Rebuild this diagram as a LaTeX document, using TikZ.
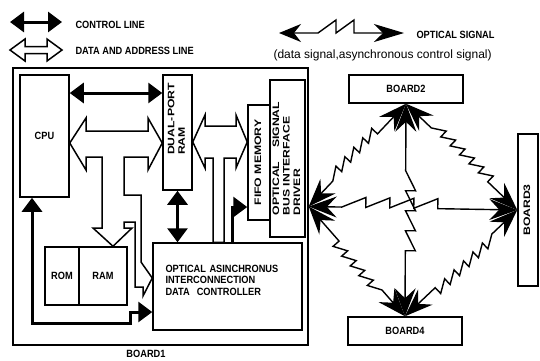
\documentclass[tikz,border=0pt]{standalone}
\usepackage{fontspec}
\setmainfont{Liberation Sans}
\newfontfamily\narrowsf{Liberation Sans}[FakeStretch=0.88]
\newfontfamily\widesf{Liberation Sans}[FakeStretch=1.3]
\usetikzlibrary{arrows.meta,decorations.pathmorphing,calc}
\newcommand{\vlabel}[1]{\rotatebox{90}{\begin{tabular}{@{}l@{}}#1\end{tabular}}}

\begin{document}
\begin{tikzpicture}[x=1pt,y=-1pt,
  box/.style={draw,line width=1.5pt,inner sep=0pt},
  lbl/.style={font=\narrowsf\bfseries\fontsize{10.5}{11.5}\selectfont},
  vlbl/.style={font=\widesf\bfseries\fontsize{9.4}{10.5}\selectfont},
  ctl/.style={line width=3pt,>={Triangle[length=14pt,width=20pt]}},
  bus/.style={draw,line width=1.5pt,fill=white,line join=miter},
  opt/.style 2 args={line width=1.4pt,
    {Stealth[length=28pt,width=21pt,inset=10pt]}-{Stealth[length=28pt,width=21pt,inset=10pt]},
    decorate,decoration={saw,segment length=13pt,amplitude=8pt,pre length=#1,post length=#2}},
]
  \useasboundingbox (0,0) rectangle (540,360);

  % legend
  \coordinate (c1) at (10,22);
  \coordinate (c2) at (62,22);
  \draw[ctl,<->] (c1) -- (c2);
  \node[lbl,anchor=west] (lgctl) at (72,25) {CONTROL LINE};
  \draw[bus] (10,50) -- (25,39) -- (25,46.5) -- (47,46.5) -- (47,39) -- (62,50)
    -- (47,61) -- (47,53.5) -- (25,53.5) -- (25,61) -- cycle;
  \node[lbl,anchor=west] (lgbus) at (72,51) {DATA AND ADDRESS LINE};
  \coordinate (o1) at (279,33);
  \coordinate (o2) at (404,33);
  \draw[line width=1.4pt,
    {Stealth[length=22pt,width=18pt,inset=7pt]}-{Stealth[length=30pt,width=18pt,inset=9pt]},
    decorate,decoration={saw,segment length=18pt,amplitude=13pt,pre length=39pt,post length=32pt}]
    (o1) -- (o2);
  \node[lbl,anchor=west] (lgopt) at (413,35) {OPTICAL SIGNAL};
  \node[anchor=west,font=\fontsize{12}{14}\selectfont] (lgnote) at (270,55)
    {(data signal,asynchronous control signal)};

  % board 1
  \node[box,minimum width=295pt,minimum height=277pt] (board1) at (160.5,206.5) {};
  \node[lbl] (b1name) at (146,354) {BOARD1};
  \node[box,lbl,minimum width=49pt,minimum height=122pt] (cpu) at (44.5,136) {CPU};
  \node[box,vlbl,minimum width=29pt,minimum height=115pt,text depth=27pt] (dpram) at (177.5,132.5)
    {\vlabel{DUAL-PORT\\RAM}};
  \node[box,vlbl,minimum width=22pt,minimum height=115pt] (fifo) at (259,162.5)
    {\vlabel{FIFO MEMORY}};
  \node[box,vlbl,minimum width=35pt,minimum height=157pt] (driver) at (287.5,158.5)
    {\vlabel{OPTICAL\ \ \ \ SIGNAL\\BUS INTERFACE\\DRIVER}};
  \node[box,lbl,minimum width=149pt,minimum height=87pt,text width=124pt,align=left,
    text depth=36pt] (ctrl) at (227.5,286.5)
    {OPTICAL ASINCHRONUS\\INTERCONNECTION\\DATA\ \ CONTROLLER};
  \node[box,lbl,minimum width=34pt,minimum height=58pt] (rom) at (62,276) {ROM};
  \node[box,lbl,minimum width=48pt,minimum height=58pt] (ram) at (103,276) {RAM};

  % data and address buses
  \draw[bus] (cpu.east |- 0,143) -- (86,118) -- (86,131) -- (148,131) -- (148,118)
    -- (dpram.west |- 0,143) -- (148,170) -- (148,157) -- (124,157) -- (124,195)
    -- (141,195) -- (141,262) -- (ctrl.west |- 0,278) -- (143,296) -- (143,287)
    -- (135,287) -- (135,222) -- (124,222) -- (124,228) -- (132,228)
    -- (ram.north -| 113,0) -- (93,228) -- (102,228) -- (102,157) -- (86,157)
    -- (86,170) -- cycle;
  \draw[bus] (dpram.east |- 0,142) -- (205,115) -- (205,126) -- (236,126) -- (236,115)
    -- (fifo.west |- 0,142) -- (236,168) -- (236,158) -- (224,158)
    -- (ctrl.north -| 224,0) -- (ctrl.north -| 213,0) -- (213,158) -- (205,158)
    -- (205,168) -- cycle;

  % control lines
  \draw[ctl,<->] (cpu.east |- 0,93) -- (dpram.west |- 0,93);
  \draw[ctl,<->] (dpram.south) -- (dpram.south |- ctrl.north);
  \draw[ctl,->] (ctrl.north -| 232,0) |- (fifo.west |- 0,207);
  \draw[ctl,<->] (ctrl.west |- 0,312) -| (130,323) -| (cpu.south -| 32,0);

  % other boards
  \node[box,lbl,minimum width=114pt,minimum height=28pt] (board2) at (406,89) {BOARD2};
  \node[box,vlbl,minimum width=20pt,minimum height=152pt] (board3) at (528,210)
    {\vlabel{BOARD3}};
  \node[box,lbl,minimum width=114pt,minimum height=28pt] (board4) at (405,331) {BOARD4};

  % optical links
  \draw[opt={35pt}{35pt}] (board1.east) -- (board2.south);
  \draw[opt={35pt}{35pt}] (board2.south) -- (board3.west);
  \draw[opt={35pt}{35pt}] (board3.west) -- (board4.north);
  \draw[opt={35pt}{35pt}] (board4.north) -- (board1.east);
  \draw[opt={33pt}{60pt},decoration={segment length=24pt,amplitude=10pt}] (board1.east) -- (board3.west);
  \draw[opt={67pt}{63pt},decoration={segment length=20pt,amplitude=10pt}] (board2.south) -- (board4.north);
\end{tikzpicture}
\end{document}
